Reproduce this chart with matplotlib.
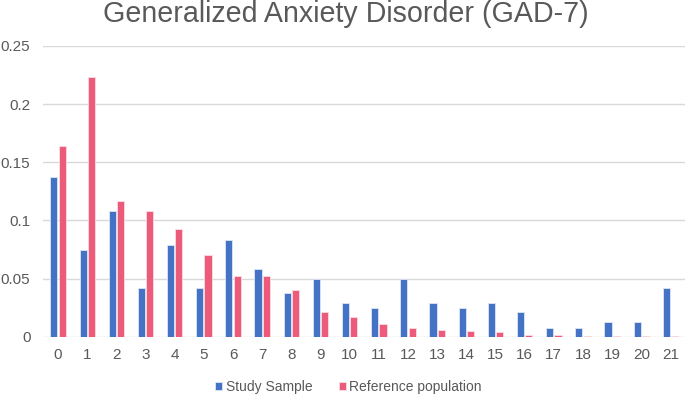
import numpy as np
import matplotlib.pyplot as plt

plt.rcParams['font.family'] = ['Liberation Sans', 'DejaVu Sans']

scores = [str(i) for i in range(22)]
study_sample = [0.137, 0.075, 0.108, 0.042, 0.079, 0.042, 0.083, 0.058, 0.038, 0.050, 0.029,
                0.025, 0.050, 0.029, 0.025, 0.029, 0.021, 0.008, 0.008, 0.013, 0.013, 0.042]
reference_pop = [0.164, 0.223, 0.117, 0.108, 0.093, 0.070, 0.052, 0.052, 0.040, 0.021, 0.017,
                 0.011, 0.008, 0.006, 0.005, 0.004, 0.002, 0.002, 0.001, 0.001, 0.001, 0.001]

blue = '#4472C4'
pink = '#EC5B79'
gray = '#595959'

fig = plt.figure(figsize=(6.85, 3.95), dpi=100)
ax = fig.add_axes([0.0635, 0.147, 0.9365, 0.737])

x = np.arange(len(scores))
w = 0.245
ax.bar(x - w / 2 - 0.02, study_sample, w, color=blue, edgecolor='#dfe6f5', linewidth=0.6,
       label='Study Sample', zorder=3)
ax.bar(x + w / 2 + 0.02, reference_pop, w, color=pink, edgecolor='#fbdde3', linewidth=0.6,
       label='Reference population', zorder=3)

ax.set_xlim(-0.5, 21.5)
ax.set_ylim(0, 0.25)
ax.set_yticks([0, 0.05, 0.1, 0.15, 0.2, 0.25])
ax.set_yticklabels(['0', '0.05', '0.1', '0.15', '0.2', '0.25'])
ax.set_xticks(x)
ax.set_xticklabels(scores)
ax.tick_params(length=0, labelsize=11, colors=gray, pad=8)
ax.tick_params(axis='y', pad=9.4)
ax.grid(axis='y', color='#d9d9d9', linewidth=1, zorder=0)
for s in ax.spines.values():
    s.set_visible(False)

fig.text(0.505, 1 - 22.5 / 395, 'Generalized Anxiety Disorder (GAD-7)', ha='center',
         va='baseline', fontsize=20.6, color=gray)

fig.legend(loc='center', bbox_to_anchor=(0.509, 1 - 386.5 / 395), ncol=2, frameon=False,
           fontsize=10, labelcolor=gray, handlelength=0.5, handleheight=0.5,
           handletextpad=0.25, columnspacing=1.9, borderpad=0.1)

fig.savefig('out.png', dpi=100)
